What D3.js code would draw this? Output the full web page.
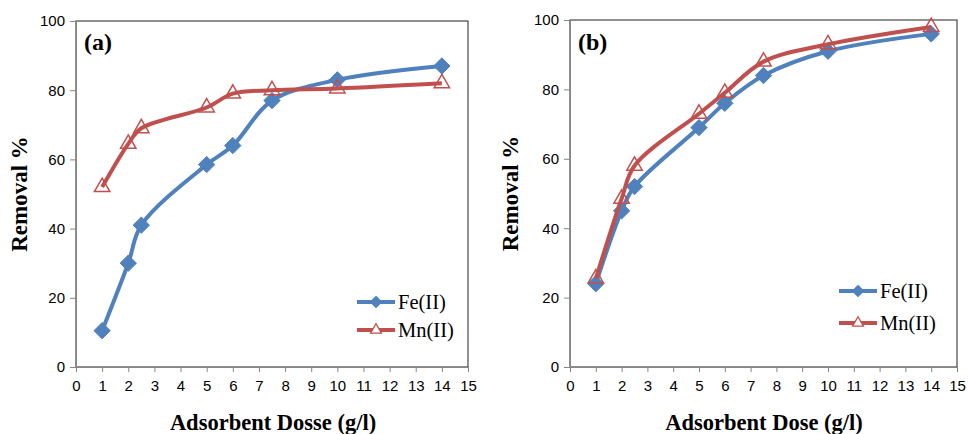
<!DOCTYPE html>
<html><head><meta charset="utf-8">
<script src="https://cdn.jsdelivr.net/npm/d3@7"></script>
<style>body{margin:0;background:#fff}svg{display:block}</style>
</head><body>
<svg id="c" width="968" height="434"></svg>
<script>
const doses = [1, 2, 2.5, 5, 6, 7.5, 10, 14];
const feA = [10.5, 30, 41, 58.5, 64, 77, 83, 87];
const mnA = [52, 64.5, 69, 75, 79, 80, 80.5, 82];
const feB = [24, 45, 52, 69, 76, 84, 91, 96];
const mnB = [25.5, 48.5, 58, 73, 79, 88, 93, 98];
const xTicks = d3.range(0, 16);
const yTicks = [0, 20, 40, 60, 80, 100];
const panels = [
  {label: "(a)", xTitle: "Adsorbent Dosse (g/l)", fe: feA, mn: mnA, x0: 76, x1: 468, y0: 367, y1: 21, legY: 302, legGap: 28, legX: 357, ttlX: 273, yTtlX: 27},
  {label: "(b)", xTitle: "Adsorbent Dose (g/l)", fe: feB, mn: mnB, x0: 570, x1: 957, y0: 367, y1: 20, legY: 291, legGap: 32, legX: 839, ttlX: 764, yTtlX: 518}
];
const BLUE = "#4F81BD", RED = "#C0504D";
const SERIF = "Liberation Serif, Times New Roman, serif";
const svg = d3.select("#c");

panels.forEach(p => {
  const x = d3.scaleLinear().domain([0, 15]).range([p.x0, p.x1]);
  const y = d3.scaleLinear().domain([0, 100]).range([p.y0, p.y1]);
  const g = svg.append("g");
  g.append("rect").attr("x", p.x0).attr("y", p.y1).attr("width", p.x1 - p.x0).attr("height", p.y0 - p.y1)
    .attr("fill", "none").attr("stroke", "#222").attr("stroke-width", 1);
  const ya = g.append("g").attr("transform", `translate(${p.x0},0)`)
    .call(d3.axisLeft(y).tickValues(yTicks).tickSize(6).tickPadding(5));
  const xa = g.append("g").attr("transform", `translate(0,${p.y0})`)
    .call(d3.axisBottom(x).tickValues(xTicks).tickSize(5).tickPadding(8));
  [ya, xa].forEach(a => {
    a.select(".domain").attr("stroke", "#868686");
    a.selectAll(".tick line").attr("stroke", "#868686");
    a.selectAll("text").attr("font-family", "Liberation Sans, Arial, sans-serif").attr("font-size", 15).attr("fill", "#000");
  });
  g.append("text").attr("x", p.ttlX).attr("y", 430).attr("text-anchor", "middle")
    .attr("font-family", SERIF).attr("font-weight", "bold").attr("font-size", 22.5)
    .text(p.xTitle);
  g.append("text").attr("transform", `translate(${p.yTtlX},${(p.y0 + p.y1) / 2}) rotate(-90)`)
    .attr("text-anchor", "middle")
    .attr("font-family", SERIF).attr("font-weight", "bold").attr("font-size", 23)
    .text("Removal %");
  g.append("text").attr("x", p.x0 + 8).attr("y", 50)
    .attr("font-family", SERIF).attr("font-weight", "bold").attr("font-size", 24)
    .text(p.label);

  const line = d3.line().x(d => x(d[0])).y(d => y(d[1])).curve(d3.curveCatmullRom.alpha(0.5));
  const feData = doses.map((d, i) => [d, p.fe[i]]);
  const mnData = doses.map((d, i) => [d, p.mn[i]]);
  const diamond = d3.symbol().type(d3.symbolDiamond2).size(170);
  const tri = d3.symbol().type(d3.symbolTriangle2).size(170);

  g.append("path").datum(feData).attr("d", line).attr("fill", "none").attr("stroke", BLUE).attr("stroke-width", 4);
  g.selectAll(".fe").data(feData).join("path").attr("transform", d => `translate(${x(d[0])},${y(d[1])})`)
    .attr("d", diamond).attr("fill", BLUE).attr("stroke", BLUE).attr("stroke-width", 1);
  g.append("path").datum(mnData).attr("d", line).attr("fill", "none").attr("stroke", RED).attr("stroke-width", 4);
  g.selectAll(".mn").data(mnData).join("path").attr("transform", d => `translate(${x(d[0])},${y(d[1])})`)
    .attr("d", tri).attr("fill", "none").attr("stroke", RED).attr("stroke-width", 1.5);

  const legDia = d3.symbol().type(d3.symbolDiamond2).size(75);
  const legTri = d3.symbol().type(d3.symbolTriangle2).size(85);
  const leg = [{n: "Fe(II)", c: BLUE, s: legDia, f: BLUE}, {n: "Mn(II)", c: RED, s: legTri, f: "#fff"}];
  leg.forEach((l, i) => {
    const ly = p.legY + i * p.legGap;
    g.append("line").attr("x1", p.legX).attr("x2", p.legX + 38).attr("y1", ly).attr("y2", ly)
      .attr("stroke", l.c).attr("stroke-width", 4);
    g.append("path").attr("transform", `translate(${p.legX + 19},${ly})`).attr("d", l.s)
      .attr("fill", l.f).attr("stroke", l.c).attr("stroke-width", 1.3);
    g.append("text").attr("x", p.legX + 41).attr("y", ly + 7)
      .attr("font-family", SERIF).attr("font-size", 20.5).text(l.n);
  });
});
</script>
</body></html>
